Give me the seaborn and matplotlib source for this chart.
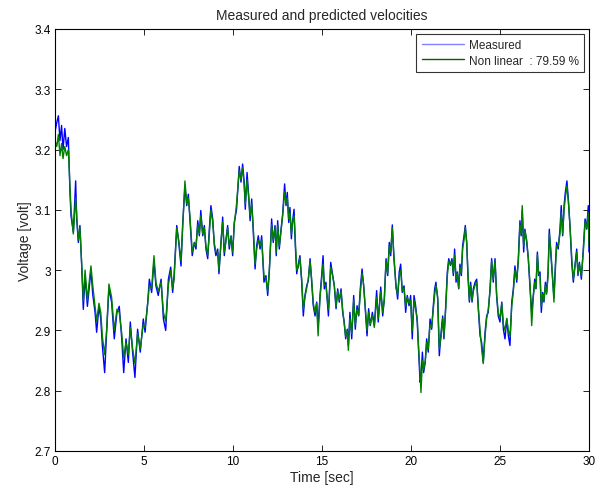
import matplotlib
matplotlib.use("Agg")
import matplotlib.pyplot as plt
import seaborn as sns
import pandas as pd

time_sec = [
    0.0, 0.1, 0.19, 0.28, 0.37, 0.45, 0.55, 0.65, 0.75, 0.84,
    0.9, 1.03, 1.16, 1.22, 1.31, 1.40, 1.5, 1.59, 1.69, 1.82,
    1.92, 2.02, 2.12, 2.25, 2.34, 2.47, 2.57, 2.66, 2.79, 2.9,
    3.03, 3.18, 3.33, 3.48, 3.61, 3.75, 3.86, 3.99, 4.12, 4.23,
    4.36, 4.49, 4.64, 4.79, 4.96, 5.06, 5.21, 5.3, 5.43, 5.56,
    5.67, 5.8, 5.96, 6.09, 6.22, 6.37, 6.5, 6.61, 6.69, 6.84,
    6.95, 7.08, 7.17, 7.3, 7.4, 7.49, 7.58, 7.71, 7.83, 7.92,
    8.02, 8.11, 8.19, 8.3, 8.39, 8.48, 8.58, 8.67, 8.76, 8.86,
    8.95, 9.04, 9.14, 9.21, 9.33, 9.42, 9.51, 9.61, 9.7, 9.79,
    9.89, 9.98, 10.07, 10.2, 10.35, 10.45, 10.54, 10.63, 10.69, 10.79,
    10.88, 10.96, 11.05, 11.14, 11.24, 11.33, 11.42, 11.52, 11.61, 11.74,
    11.85, 11.95, 12.04, 12.17, 12.26, 12.36, 12.43, 12.51, 12.6, 12.7,
    12.79, 12.9, 12.98, 13.05, 13.13, 13.2, 13.28, 13.35, 13.43, 13.5,
    13.58, 13.67, 13.76, 13.86, 13.95, 14.04, 14.14, 14.23, 14.33, 14.42,
    14.51, 14.61, 14.7, 14.78, 14.89, 14.98, 15.06, 15.13, 15.22, 15.36,
    15.41, 15.49, 15.6, 15.69, 15.79, 15.88, 15.97, 16.07, 16.16, 16.25,
    16.33, 16.42, 16.48, 16.57, 16.67, 16.78, 16.87, 16.97, 17.06, 17.15,
    17.25, 17.34, 17.43, 17.53, 17.62, 17.71, 17.83, 17.94, 18.07, 18.16,
    18.3, 18.41, 18.5, 18.6, 18.69, 18.78, 18.86, 18.95, 19.04, 19.16,
    19.25, 19.34, 19.42, 19.51, 19.61, 19.7, 19.79, 19.89, 19.98, 20.07,
    20.17, 20.26, 20.35, 20.43, 20.51, 20.56, 20.64, 20.71, 20.8, 20.88,
    20.97, 21.07, 21.16, 21.24, 21.33, 21.4, 21.5, 21.59, 21.69, 21.78,
    21.85, 21.95, 22.04, 22.12, 22.21, 22.3, 22.38, 22.45, 22.53, 22.6,
    22.68, 22.75, 22.83, 22.9, 22.98, 23.05, 23.13, 23.2, 23.28, 23.35,
    23.43, 23.5, 23.6, 23.69, 23.78, 23.88, 23.97, 24.06, 24.16, 24.25,
    24.34, 24.44, 24.53, 24.62, 24.72, 24.81, 24.9, 25.0, 25.1, 25.19,
    25.28, 25.38, 25.47, 25.56, 25.66, 25.75, 25.84, 25.94, 26.03, 26.12,
    26.19, 26.25, 26.33, 26.4, 26.5, 26.59, 26.69, 26.78, 26.87, 26.95,
    27.02, 27.1, 27.17, 27.25, 27.32, 27.4, 27.47, 27.55, 27.62, 27.7,
    27.77, 27.85, 27.94, 28.03, 28.11, 28.18, 28.27, 28.37, 28.44, 28.52,
    28.6, 28.67, 28.76, 28.85, 28.94, 29.04, 29.12, 29.21, 29.31, 29.38,
    29.46, 29.57, 29.68, 29.78, 29.87, 29.96, 30.0,
]

measured = [
    3.229, 3.245, 3.256, 3.215, 3.24, 3.2, 3.235, 3.205, 3.22, 3.13,
    3.09, 3.063, 3.148, 3.085, 3.046, 3.074, 3.007, 2.935, 2.99, 2.94,
    2.97, 3.0, 2.96, 2.93, 2.897, 2.94, 2.92, 2.875, 2.83, 2.897,
    2.97, 2.947, 2.886, 2.93, 2.94, 2.886, 2.83, 2.886, 2.847, 2.914,
    2.864, 2.822, 2.902, 2.864, 2.919, 2.897, 2.947, 2.985, 2.963, 3.015,
    2.974, 2.958, 2.985, 2.919, 2.9, 2.985, 3.005, 2.963, 2.991, 3.074,
    3.046, 3.007, 3.074, 3.14, 3.107, 3.126, 3.085, 3.024, 3.046, 3.035,
    3.082, 3.057, 3.099, 3.057, 3.074, 3.035, 3.019, 3.068, 3.107, 3.085,
    3.041, 3.024, 3.035, 2.994, 3.046, 3.088, 3.024, 3.052, 3.074, 3.035,
    3.057, 3.024, 3.079, 3.101, 3.172, 3.146, 3.176, 3.146, 3.101, 3.162,
    3.124, 3.082, 3.118, 3.063, 3.002, 3.041, 3.057, 3.035, 3.057, 2.98,
    2.991, 2.958, 2.997, 3.085, 3.046, 3.074, 3.024, 3.082, 3.035, 3.068,
    3.093, 3.143, 3.107, 3.129, 3.079, 3.104, 3.052, 3.082, 3.101, 3.041,
    2.994, 3.01, 3.024, 2.98, 2.924, 2.958, 2.974, 2.983, 3.019, 2.98,
    2.941, 2.924, 2.947, 2.905, 2.958, 2.991, 3.024, 2.969, 2.98, 2.924,
    2.958, 3.013, 2.991, 2.974, 2.936, 2.969, 2.947, 2.969, 2.93, 2.914,
    2.886, 2.902, 2.875, 2.93, 2.886, 2.958, 2.902, 2.941, 2.924, 2.969,
    3.002, 2.974, 2.936, 2.891, 2.936, 2.908, 2.93, 2.908, 2.966, 2.914,
    2.972, 2.924, 2.952, 3.019, 2.991, 3.046, 3.024, 3.075, 3.019, 2.974,
    2.952, 2.997, 3.01, 2.963, 2.974, 2.93, 2.958, 2.941, 2.958, 2.886,
    2.958, 2.941, 2.914, 2.864, 2.814, 2.82, 2.864, 2.83, 2.847, 2.886,
    2.864, 2.919, 2.902, 2.936, 2.969, 2.98, 2.952, 2.858, 2.897, 2.924,
    2.886, 2.941, 2.997, 3.019, 3.008, 3.019, 2.991, 3.035, 2.98, 2.997,
    2.969, 3.01, 2.991, 3.041, 3.057, 3.074, 3.046, 2.991, 2.947, 2.98,
    2.947, 2.969, 2.98, 2.985, 2.936, 2.891, 2.88, 2.847, 2.897, 2.924,
    2.93, 2.969, 3.019, 2.98, 3.019, 2.958, 2.924, 2.914, 2.947, 2.902,
    2.886, 2.919, 2.891, 2.875, 2.947, 2.969, 3.007, 2.98, 3.019, 3.082,
    3.057, 3.1, 3.03, 3.068, 3.046, 3.019, 2.969, 2.93, 2.958, 2.985,
    2.969, 3.03, 2.991, 2.997, 2.93, 2.963, 2.947, 2.98, 2.963, 2.997,
    3.068, 3.03, 2.991, 2.955, 3.008, 3.046, 3.035, 3.068, 3.107, 3.057,
    3.107, 3.129, 3.148, 3.113, 3.068, 3.008, 2.98, 3.008, 3.035, 2.991,
    3.013, 2.985, 3.035, 3.085, 3.068, 3.107, 3.03,
]

predicted = [
    3.215, 3.205, 3.225, 3.19, 3.21, 3.185, 3.205, 3.19, 3.2, 3.14,
    3.1, 3.06, 3.12, 3.09, 3.05, 3.07, 3.01, 2.95, 3.0, 2.95,
    2.98, 3.007, 2.975, 2.94, 2.915, 2.945, 2.93, 2.89, 2.86, 2.9,
    2.977, 2.955, 2.9, 2.935, 2.93, 2.895, 2.855, 2.88, 2.86, 2.905,
    2.87, 2.845, 2.895, 2.87, 2.91, 2.905, 2.945, 2.975, 2.97, 3.024,
    2.98, 2.965, 2.98, 2.93, 2.915, 2.975, 3.0, 2.97, 2.985, 3.07,
    3.05, 3.015, 3.07, 3.148, 3.11, 3.12, 3.09, 3.03, 3.045, 3.04,
    3.075, 3.06, 3.09, 3.06, 3.07, 3.04, 3.025, 3.06, 3.1, 3.08,
    3.045, 3.03, 3.03, 3.0, 3.05, 3.08, 3.03, 3.05, 3.07, 3.04,
    3.055, 3.03, 3.075, 3.11, 3.165, 3.15, 3.17, 3.14, 3.11, 3.15,
    3.12, 3.09, 3.11, 3.07, 3.01, 3.035, 3.05, 3.04, 3.05, 2.99,
    2.985, 2.965, 3.0, 3.075, 3.05, 3.07, 3.03, 3.075, 3.04, 3.065,
    3.09, 3.13, 3.11, 3.12, 3.085, 3.095, 3.06, 3.08, 3.09, 3.05,
    3.0, 3.005, 3.02, 2.985, 2.935, 2.955, 2.97, 2.985, 3.015, 2.985,
    2.945, 2.93, 2.945, 2.891, 2.955, 2.985, 3.01, 2.975, 2.975, 2.935,
    2.955, 3.005, 2.99, 2.975, 2.94, 2.965, 2.95, 2.965, 2.935, 2.91,
    2.89, 2.9, 2.867, 2.92, 2.895, 2.95, 2.91, 2.935, 2.925, 2.96,
    2.995, 2.975, 2.94, 2.9, 2.93, 2.91, 2.925, 2.905, 2.955, 2.92,
    2.965, 2.93, 2.95, 3.015, 2.995, 3.04, 3.03, 3.07, 3.025, 2.97,
    2.96, 2.99, 3.0, 2.965, 2.97, 2.94, 2.955, 2.945, 2.95, 2.9,
    2.95, 2.935, 2.92, 2.87, 2.83, 2.797, 2.85, 2.835, 2.85, 2.88,
    2.87, 2.91, 2.905, 2.93, 2.96, 2.975, 2.955, 2.87, 2.89, 2.92,
    2.89, 2.935, 2.99, 3.015, 3.01, 3.015, 2.995, 3.025, 2.985, 2.995,
    2.97, 3.005, 2.995, 3.035, 3.05, 3.07, 3.045, 2.995, 2.95, 2.975,
    2.95, 2.965, 2.975, 2.98, 2.94, 2.9, 2.87, 2.845, 2.89, 2.92,
    2.935, 2.965, 3.015, 2.985, 3.015, 2.96, 2.93, 2.92, 2.945, 2.91,
    2.9, 2.92, 2.9, 2.89, 2.94, 2.965, 3.0, 2.985, 3.015, 3.075,
    3.06, 3.107, 3.04, 3.065, 3.05, 3.02, 2.975, 2.908, 2.955, 2.98,
    2.97, 3.025, 2.995, 2.99, 2.94, 2.96, 2.95, 2.975, 2.96, 2.99,
    3.06, 3.035, 2.995, 2.947, 3.0, 3.04, 3.04, 3.06, 3.095, 3.06,
    3.1, 3.12, 3.14, 3.11, 3.07, 3.015, 2.985, 3.005, 3.03, 2.995,
    3.01, 2.99, 3.03, 3.08, 3.07, 3.095, 3.04,
]

x_ticks = [0, 5, 10, 15, 20, 25, 30]
y_ticks = [2.7, 2.8, 2.9, 3.0, 3.1, 3.2, 3.3, 3.4]
y_tick_labels = ["2.7", "2.8", "2.9", "3", "3.1", "3.2", "3.3", "3.4"]
legend_labels = ["Measured", "Non linear  : 79.59 %"]

n = min(len(time_sec), len(measured), len(predicted))
df = pd.DataFrame({"t": time_sec[:n], "m": measured[:n], "p": predicted[:n]})

sns.set_theme(style="white")
plt.rcParams["font.family"] = ["Liberation Sans", "DejaVu Sans"]

fig = plt.figure(figsize=(6.07, 4.89), dpi=100)
ax = fig.add_axes([55 / 607, 37 / 489, (589 - 55) / 607, (452 - 30) / 489])

sns.lineplot(data=df, x="t", y="m", ax=ax, color="#0000ff", lw=1.0,
             estimator=None, sort=False, label=legend_labels[0])
sns.lineplot(data=df, x="t", y="p", ax=ax, color="#008000", lw=1.0,
             estimator=None, sort=False, label=legend_labels[1])

ax.set_xlim(0, 30)
ax.set_ylim(2.7, 3.4)
ax.set_xticks(x_ticks)
ax.set_xticklabels([str(v) for v in x_ticks])
ax.set_yticks(y_ticks)
ax.set_yticklabels(y_tick_labels)
ax.tick_params(direction="in", length=4, width=0.6, colors="black",
               labelsize=8.5, top=True, right=True, bottom=True, left=True,
               pad=3)
for s in ax.spines.values():
    s.set_visible(True)
    s.set_color("black")
    s.set_linewidth(0.8)

ax.set_xlabel("Time [sec]", fontsize=10, labelpad=2)
ax.set_ylabel("Voltage [volt]", fontsize=10, labelpad=2)
ax.set_title("Measured and predicted velocities", fontsize=10, pad=7)

leg = ax.legend(loc="upper right", frameon=True, fancybox=False,
                fontsize=8.5, borderaxespad=0.4, handlelength=3.6,
                handletextpad=0.4, borderpad=0.45, labelspacing=0.3)
leg.get_frame().set_edgecolor("black")
leg.get_frame().set_linewidth(0.8)
leg.get_lines()[0].set_color("#8080ff")
leg.get_lines()[1].set_color("#006000")

fig.savefig("out.png", dpi=100, facecolor="white")
